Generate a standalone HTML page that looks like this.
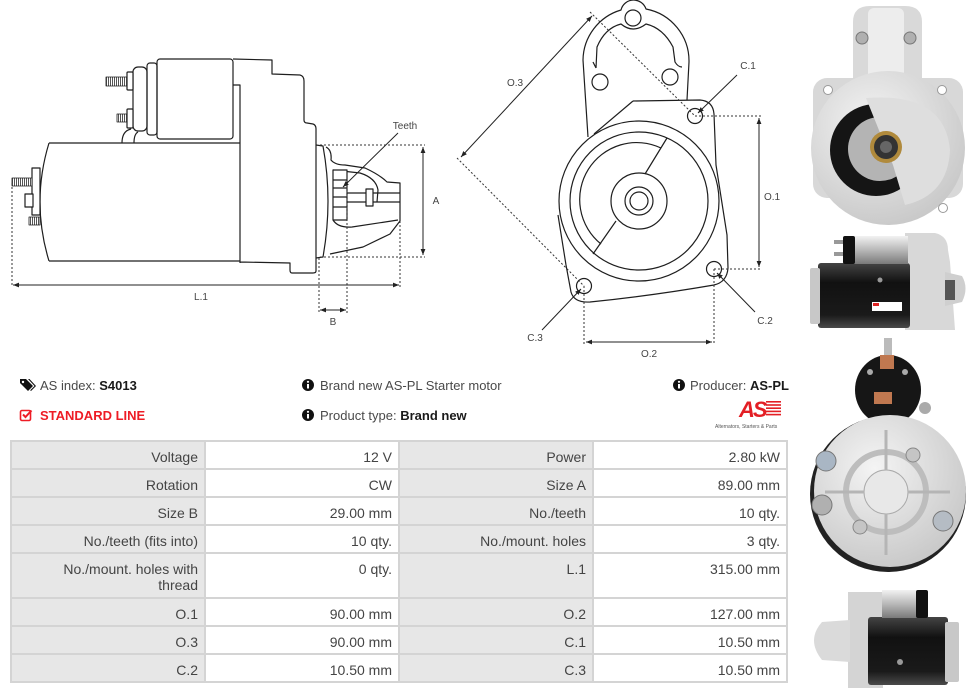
<!DOCTYPE html>
<html><head><meta charset="utf-8">
<style>
html,body{margin:0;padding:0;background:#fff;}
body{width:976px;height:692px;overflow:hidden;position:relative;font-family:"Liberation Sans",Arial,sans-serif;}
svg.d{position:absolute;left:0;top:0;}
.t{position:absolute;font-size:13px;color:#4a4a4a;white-space:nowrap;line-height:15px;}
.t b{color:#1a1a1a;}
.grid{position:absolute;left:10px;top:440px;width:774px;padding:2px;background:#d4d4d4;display:grid;grid-template-columns:192px 192px 192px 192px;grid-template-rows:26px 26px 26px 26px 43px 26px 26px 26px;gap:2px;}
.grid div{background:#fff;text-align:right;padding:7px 6px 0 0;font-size:14px;line-height:16px;color:#444;box-sizing:border-box;overflow:hidden;}
.grid div.l{background:#e7e7e7;}
</style></head><body>
<svg class="d" width="976" height="692" viewBox="0 0 976 692" xmlns="http://www.w3.org/2000/svg">
<defs>
<marker id="ah" viewBox="0 0 10 10" refX="10" refY="5" markerWidth="6" markerHeight="6" orient="auto-start-reverse"><path d="M0,1 L10,5 L0,9z" fill="#222"/></marker>
<pattern id="thr" width="2" height="10" patternUnits="userSpaceOnUse"><rect width="2" height="10" fill="#fff"/><rect width="1" height="10" fill="#555"/></pattern>
<linearGradient id="blk" x1="0" y1="0" x2="0" y2="1"><stop offset="0" stop-color="#444"/><stop offset=".3" stop-color="#111"/><stop offset=".8" stop-color="#1a1a1a"/><stop offset="1" stop-color="#4a4a4a"/></linearGradient>
<linearGradient id="slv" x1="0" y1="0" x2="0" y2="1"><stop offset="0" stop-color="#f2f2f2"/><stop offset=".5" stop-color="#b8b8b8"/><stop offset="1" stop-color="#7a7a7a"/></linearGradient>
<radialGradient id="alu" cx=".4" cy=".35" r=".75"><stop offset="0" stop-color="#f4f4f4"/><stop offset="1" stop-color="#c4c4c4"/></radialGradient>
</defs>

<!-- LEFT DRAWING -->
<g fill="none" stroke="#1e1e1e" stroke-width="1.2" stroke-linejoin="round">
<path d="M49,143 L240,143 M49,261 L240,261 M49,143 Q31,202 49,261"/>
<rect x="157" y="59" width="76" height="80" rx="3"/>
<rect x="147" y="63" width="10" height="72" rx="3"/>
<rect x="133" y="67" width="14" height="64" rx="5"/>
<path d="M122,143 Q122,131 131,129 M134,143 Q134,134 138,132"/>
<path d="M233,59 L272,60 L272,74 L300,75 Q304,76 304,81 L304,120 Q304,123 307,123 L313,124 Q316,125 316,129 L316,271 Q316,273 313,273 L292,273 Q290,273 290,270 L290,263 L240,262 M233,85 L240,85 L240,263"/>
<rect x="127" y="72" width="6" height="18" rx="1" fill="#fff"/>
<rect x="106" y="77" width="21" height="9" fill="url(#thr)" stroke-width="0.8"/>
<rect x="127" y="109" width="6" height="19" rx="1" fill="#fff"/>
<rect x="117" y="114" width="10" height="8" fill="url(#thr)" stroke-width="0.8"/>
<rect x="32" y="168" width="8" height="47" fill="#fff"/>
<rect x="12" y="178" width="20" height="8" fill="url(#thr)" stroke-width="0.8"/>
<rect x="25" y="194" width="8" height="13" fill="#fff"/>
<rect x="29" y="217" width="11" height="8" fill="url(#thr)" stroke-width="0.8"/>
<path d="M316,145 L323,146 Q333,201 323,257 L316,258"/>
<path d="M326,147 Q332,150 331,160 Q335,165 345,165 L365,168 Q380,175 387,182 L400,183 L400,221 L390,234 L363,247 L330,254"/>
<path d="M333,170 L360,173 Q376,178 378,190 L377,202 M333,220 Q338,228 352,227 L398,220"/>
<rect x="333" y="170" width="14" height="50" fill="#fff"/>
<path d="M333,180 L347,180 M333,188 L347,188 M333,197 L347,197 M333,207 L347,207"/>
<path d="M347,193 L400,193 M347,202 L400,202"/>
<rect x="366" y="189" width="7" height="17" fill="#fff"/>
</g>
<g fill="none" stroke="#333" stroke-width="1" stroke-dasharray="2,2">
<path d="M320,145 L425,145 M320,257 L425,257 M12,183 L12,287 M400,221 L400,287 M319,258 L319,313 M347,187 L347,313"/>
</g>
<g fill="none" stroke="#222" stroke-width="1">
<path d="M423,147 L423,255" marker-start="url(#ah)" marker-end="url(#ah)"/>
<path d="M13,285 L399,285" marker-start="url(#ah)" marker-end="url(#ah)"/>
<path d="M320,310 L346,310" marker-start="url(#ah)" marker-end="url(#ah)"/>
<path d="M398,133 L343,187" marker-end="url(#ah)"/>
</g>
<g font-family="Liberation Sans, Arial, sans-serif" font-size="10" fill="#444" text-anchor="middle">
<text x="405" y="129">Teeth</text>
<text x="436" y="204">A</text>
<text x="201" y="300">L.1</text>
<text x="333" y="325">B</text>
</g>

<!-- MIDDLE DRAWING -->
<g fill="none" stroke="#1e1e1e" stroke-width="1.2" stroke-linejoin="round">
<path d="M588,137 L583,60 A53,53 0 0 1 621,10 A13,13 0 0 1 646,9 A53,53 0 0 1 689,62 L687,100"/>
<path d="M596,68 L597,47 Q605,28 621,24 Q633,34 646,24 Q663,28 673,47 L675,62 Q678,67 682,67 M593,62 L596,68"/>
<circle cx="633" cy="18" r="8"/>
<circle cx="600" cy="82" r="8"/>
<circle cx="670" cy="77" r="8"/>
<path d="M633,101 L700,100 Q713,101 714,114 L716,165 L727,235 L728,268 Q727,282 714,285 Q650,296 590,302 Q574,303 571,292 L566,265 L558,215"/>
<path d="M633,101 L594,134"/>
<circle cx="639" cy="201" r="80"/>
<circle cx="639" cy="201" r="69"/>
<path d="M661,148 A57,57 0 0 0 601,244"/>
<circle cx="639" cy="201" r="28"/>
<circle cx="639" cy="201" r="14"/>
<circle cx="639" cy="201" r="9"/>
<path d="M667,138 L645,174 M616,221 L593,254"/>
<circle cx="695" cy="116" r="7.5"/>
<circle cx="714" cy="269" r="7.5"/>
<circle cx="584" cy="286" r="7.5"/>
</g>
<g fill="none" stroke="#333" stroke-width="1" stroke-dasharray="2,2">
<path d="M590,12 L695,116 M457,158 L584,286 M695,116 L762,116 M714,269 L762,269 M584,286 L584,345 M714,269 L714,345"/>
</g>
<g fill="none" stroke="#222" stroke-width="1">
<path d="M592,16 L461,157" marker-start="url(#ah)" marker-end="url(#ah)"/>
<path d="M759,118 L759,267" marker-start="url(#ah)" marker-end="url(#ah)"/>
<path d="M586,342 L712,342" marker-start="url(#ah)" marker-end="url(#ah)"/>
<path d="M737,75 L698,113" marker-end="url(#ah)"/>
<path d="M755,312 L717,273" marker-end="url(#ah)"/>
<path d="M542,330 L581,289" marker-end="url(#ah)"/>
</g>
<g font-family="Liberation Sans, Arial, sans-serif" font-size="10" fill="#444" text-anchor="middle">
<text x="515" y="86">O.3</text>
<text x="748" y="69">C.1</text>
<text x="772" y="200">O.1</text>
<text x="765" y="324">C.2</text>
<text x="535" y="341">C.3</text>
<text x="649" y="357">O.2</text>
</g>

<!-- PHOTO 1 front -->
<path d="M853,80 L853,22 Q853,6 870,6 L905,6 Q922,6 922,22 L922,80 Z" fill="#d9d9d9"/>
<rect x="868" y="8" width="36" height="72" rx="6" fill="#ededed"/>
<circle cx="862" cy="38" r="6" fill="#b0b0b0" stroke="#777"/>
<circle cx="910" cy="38" r="6" fill="#b0b0b0" stroke="#777"/>
<rect x="813" y="78" width="150" height="120" rx="14" fill="#d8d8d8"/>
<circle cx="888" cy="148" r="77" fill="url(#alu)"/>
<circle cx="828" cy="90" r="4.5" fill="#fff" stroke="#999"/>
<circle cx="942" cy="90" r="4.5" fill="#fff" stroke="#999"/>
<circle cx="943" cy="208" r="4.5" fill="#fff" stroke="#999"/>
<circle cx="876" cy="150" r="46" fill="#151515"/>
<circle cx="880" cy="149" r="32" fill="#b4b4b4"/>
<path d="M866,98 Q945,92 950,150 Q948,195 905,205 L893,165 Z" fill="#dedede"/>
<circle cx="886" cy="147" r="16" fill="#b08a3c"/>
<circle cx="886" cy="147" r="12" fill="#333"/>
<circle cx="886" cy="147" r="6" fill="#666"/>

<!-- PHOTO 2 side -->
<path d="M905,233 L935,233 Q948,236 948,250 L950,262 L955,330 L905,330 Z" fill="#d8d8d8"/>
<path d="M945,272 L962,276 Q969,288 962,302 L945,306 Z" fill="#cfcfcf"/>
<rect x="945" y="280" width="10" height="20" fill="#555"/>
<rect x="818" y="263" width="92" height="65" rx="3" fill="url(#blk)"/>
<rect x="810" y="268" width="10" height="56" rx="2" fill="#c8c8c8"/>
<rect x="850" y="236" width="58" height="28" fill="url(#slv)"/>
<rect x="843" y="236" width="12" height="28" rx="2" fill="#111"/>
<rect x="834" y="240" width="9" height="4" fill="#999"/>
<rect x="834" y="252" width="9" height="4" fill="#999"/>
<rect x="872" y="302" width="30" height="9" fill="#fff"/>
<rect x="873" y="303" width="6" height="3" fill="#d22"/>
<circle cx="880" cy="280" r="2.5" fill="#999"/>

<!-- PHOTO 3 rear -->
<rect x="884" y="338" width="8" height="18" fill="#bbb"/>
<ellipse cx="888" cy="390" rx="33" ry="35" fill="#161616"/>
<rect x="880" y="355" width="14" height="14" fill="#c07850"/>
<rect x="874" y="392" width="18" height="12" fill="#c07850"/>
<circle cx="870" cy="372" r="3" fill="#aaa"/>
<circle cx="905" cy="372" r="3" fill="#aaa"/>
<circle cx="925" cy="408" r="6" fill="#aaa"/>
<circle cx="888" cy="494" r="78" fill="#222"/>
<circle cx="890" cy="491" r="76" fill="url(#alu)"/>
<circle cx="886" cy="492" r="40" fill="none" stroke="#bdbdbd" stroke-width="6"/>
<circle cx="886" cy="492" r="22" fill="#e8e8e8" stroke="#aaa"/>
<path d="M886,430 L886,470 M886,514 L886,555 M825,492 L864,492 M908,492 L950,492" stroke="#b5b5b5" stroke-width="3"/>
<circle cx="826" cy="461" r="10" fill="#a9b6c4" stroke="#777"/>
<circle cx="822" cy="505" r="10" fill="#b0b0b0" stroke="#777"/>
<circle cx="943" cy="521" r="10" fill="#b5bcc4" stroke="#777"/>
<circle cx="913" cy="455" r="7" fill="#c5c5c5" stroke="#888"/>
<circle cx="860" cy="527" r="7" fill="#c5c5c5" stroke="#888"/>

<!-- PHOTO 4 side -->
<path d="M848,592 L883,592 L883,688 L848,688 Z" fill="#d4d4d4"/>
<path d="M850,620 L822,622 Q806,640 822,660 L850,662 Z" fill="#dadada"/>
<rect x="868" y="617" width="80" height="68" rx="3" fill="url(#blk)"/>
<rect x="882" y="590" width="38" height="28" fill="url(#slv)"/>
<rect x="916" y="590" width="12" height="28" rx="2" fill="#111"/>
<rect x="945" y="622" width="14" height="60" rx="2" fill="#c8c8c8"/>
<circle cx="900" cy="662" r="3" fill="#999"/>

<!-- ICONS -->
<path d="M20,379 L26,379 L33,386 L28,391 L20,383 Z" fill="#111"/>
<circle cx="23" cy="382" r="1.2" fill="#fff"/>
<path d="M28,379 L29.5,379 L36,386 L31,391 L30.2,390.2 L34.5,386 Z" fill="#111"/>
<rect x="20.5" y="410.5" width="10" height="10" rx="1.5" fill="none" stroke="#ee1c25" stroke-width="1.6"/>
<path d="M23,414.5 L25.5,417 L31.5,410.5" fill="none" stroke="#ee1c25" stroke-width="2"/>
<g fill="#111">
<circle cx="308" cy="385" r="6"/>
<circle cx="679" cy="385" r="6"/>
<circle cx="308" cy="415" r="6"/>
</g>
<g fill="#fff">
<rect x="307" y="384" width="2" height="4.5"/><circle cx="308" cy="381.8" r="1.1"/>
<rect x="678" y="384" width="2" height="4.5"/><circle cx="679" cy="381.8" r="1.1"/>
<rect x="307" y="414" width="2" height="4.5"/><circle cx="308" cy="411.8" r="1.1"/>
</g>

<!-- LOGO -->
<g fill="#e31e24">
<rect x="766" y="401" width="15" height="1.6"/>
<rect x="766" y="404.2" width="15" height="1.6"/>
<rect x="766" y="407.4" width="15" height="1.6"/>
<rect x="766" y="410.6" width="15" height="1.6"/>
<rect x="766" y="413.8" width="15" height="1.6"/>
</g>
<text x="739" y="417" font-family="Liberation Sans, Arial, sans-serif" font-size="22" font-weight="bold" font-style="italic" fill="#e31e24" letter-spacing="-2">AS</text>
<text x="715" y="428" font-family="Liberation Sans, Arial, sans-serif" font-size="5" fill="#555">Alternators, Starters &amp; Parts</text>
</svg>

<div class="t" style="left:40px;top:378px;">AS index: <b>S4013</b></div>
<div class="t" style="left:40px;top:408px;color:#ee1c25;font-weight:bold;">STANDARD LINE</div>
<div class="t" style="left:320px;top:378px;">Brand new AS-PL Starter motor</div>
<div class="t" style="left:320px;top:408px;">Product type: <b>Brand new</b></div>
<div class="t" style="left:690px;top:378px;">Producer: <b>AS-PL</b></div>

<div class="grid">
<div class="l">Voltage</div><div>12 V</div><div class="l">Power</div><div>2.80 kW</div>
<div class="l">Rotation</div><div>CW</div><div class="l">Size A</div><div>89.00 mm</div>
<div class="l">Size B</div><div>29.00 mm</div><div class="l">No./teeth</div><div>10 qty.</div>
<div class="l">No./teeth (fits into)</div><div>10 qty.</div><div class="l">No./mount. holes</div><div>3 qty.</div>
<div class="l">No./mount. holes with<br>thread</div><div>0 qty.</div><div class="l">L.1</div><div>315.00 mm</div>
<div class="l">O.1</div><div>90.00 mm</div><div class="l">O.2</div><div>127.00 mm</div>
<div class="l">O.3</div><div>90.00 mm</div><div class="l">C.1</div><div>10.50 mm</div>
<div class="l">C.2</div><div>10.50 mm</div><div class="l">C.3</div><div>10.50 mm</div>
</div>
</body></html>
